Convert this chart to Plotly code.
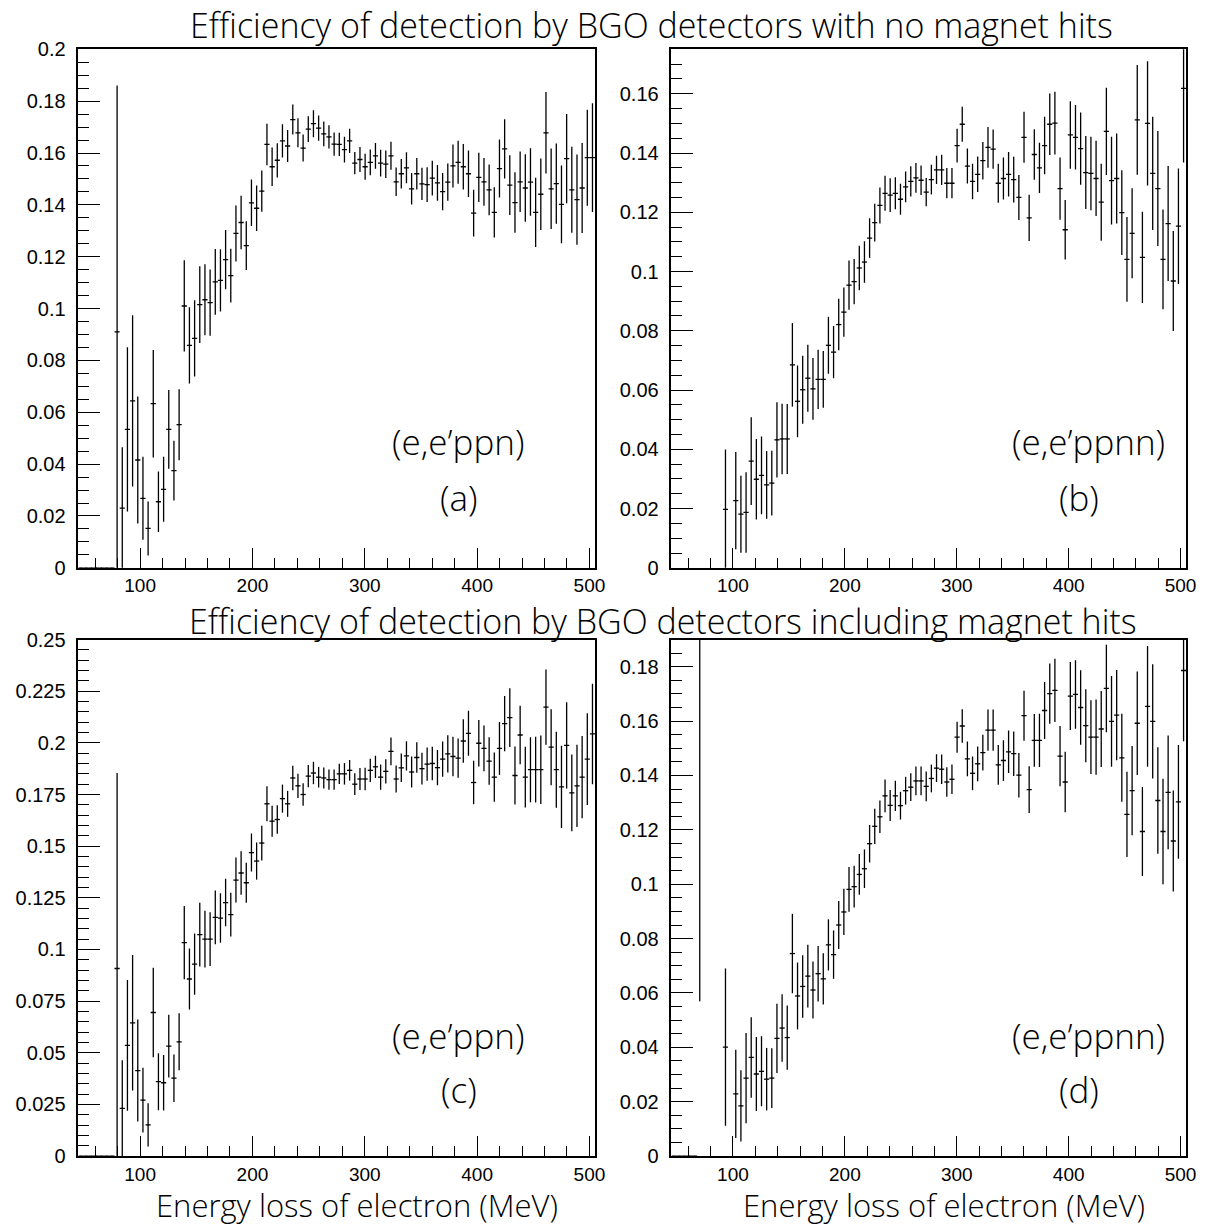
import plotly.graph_objects as go

# Energy-loss binning: 100 bins of 4.6 MeV between 45 and 505 MeV
X_MIN, X_MAX, N_BINS = 45.0, 505.0, 100
BIN_W = (X_MAX - X_MIN) / N_BINS
bin_centers = [X_MIN + (i + 0.5) * BIN_W for i in range(N_BINS)]

N = None
# (a) (e,e'ppn), no magnet hits
eff_a = [0, 0, 0, 0, 0, 0, 0,
         0.091, 0.023, 0.0534, 0.0644, 0.0416, 0.0268, 0.0152, 0.0633, 0.0255, 0.0303,
         0.0534, 0.0375, 0.0552, 0.101, 0.0858, 0.0885, 0.1015, 0.1034, 0.1023, 0.1103,
         0.1109, 0.1189, 0.1127, 0.129, 0.1332, 0.1243, 0.1408, 0.1387, 0.1453, 0.1633,
         0.1547, 0.1572, 0.1647, 0.1627, 0.1729, 0.1678, 0.1619, 0.1692, 0.1713, 0.1696,
         0.1674, 0.1662, 0.1634, 0.1633, 0.1613, 0.1647, 0.1561, 0.1575, 0.1547, 0.1564,
         0.1589, 0.1561, 0.1557, 0.1589, 0.1489, 0.152, 0.1543, 0.1462, 0.152, 0.1481,
         0.1478, 0.1503, 0.1485, 0.1451, 0.1488, 0.155, 0.1564, 0.1547, 0.152, 0.1368,
         0.1506, 0.1489, 0.1458, 0.1371, 0.154, 0.1616, 0.1476, 0.1409, 0.1489, 0.1465,
         0.1488, 0.1371, 0.1441, 0.1678, 0.1462, 0.1482, 0.1402, 0.1578, 0.1458, 0.142,
         0.1465, 0.1582, 0.1582]
err_a = [0, 0, 0, 0, 0, 0, 0,
         0.095, 0.0235, 0.0317, 0.033, 0.0245, 0.016, 0.0104, 0.0207, 0.0117, 0.0125,
         0.0152, 0.0115, 0.0137, 0.0176, 0.0147, 0.0147, 0.0148, 0.0137, 0.0128, 0.0127,
         0.012, 0.0114, 0.0104, 0.0108, 0.0103, 0.0094, 0.009, 0.0088, 0.008, 0.008,
         0.0074, 0.0066, 0.0064, 0.0062, 0.0058, 0.0056, 0.0052, 0.005, 0.0052, 0.0049,
         0.0048, 0.0045, 0.0045, 0.0045, 0.005, 0.0047, 0.0043, 0.0048, 0.005, 0.005,
         0.005, 0.0052, 0.0053, 0.0054, 0.0055, 0.0057, 0.006, 0.0061, 0.0061, 0.0062,
         0.0067, 0.0067, 0.0069, 0.0072, 0.0072, 0.0083, 0.0083, 0.0088, 0.009, 0.009,
         0.0095, 0.0092, 0.0098, 0.0097, 0.0112, 0.0114, 0.0115, 0.0117, 0.0117, 0.013,
         0.013, 0.0134, 0.0138, 0.0157, 0.0155, 0.0155, 0.015, 0.0172, 0.0166, 0.0174,
         0.0174, 0.0185, 0.021]

# (b) (e,e'ppnn), no magnet hits
eff_b = [N, N, N, N, N, N, N, N, N, N,
         0.0197, N, 0.0227, 0.0181, 0.0187, 0.036, 0.0299, 0.0312, 0.028, 0.0286,
         0.0432, 0.0435, 0.0435, 0.0685, 0.0562, 0.0601, 0.064, 0.0604, 0.0636, 0.0636,
         0.0751, 0.0728, 0.0821, 0.0863, 0.0954, 0.0966, 0.1012, 0.1032, 0.1113, 0.1165,
         0.1223, 0.1264, 0.1258, 0.1264, 0.1244, 0.1286, 0.1304, 0.1316, 0.1308, 0.1268,
         0.131, 0.1343, 0.1343, 0.1298, 0.1298, 0.1425, 0.1497, 0.1356, 0.1304, 0.1328,
         0.1374, 0.1419, 0.1413, 0.1298, 0.1314, 0.1328, 0.131, 0.125, 0.1453, 0.1181,
         0.1395, 0.135, 0.1425, 0.1497, 0.1501, 0.128, 0.1141, 0.1461, 0.1453, 0.1415,
         0.1334, 0.1331, 0.1314, 0.1234, 0.1473, 0.1307, 0.1314, 0.1199, 0.1041, 0.1129,
         0.1512, 0.1048, 0.15, 0.1331, 0.128, 0.1041, 0.1162, 0.0968, 0.1153, 0.1618]
err_b = [N, N, N, N, N, N, N, N, N, N,
         0.0202, N, 0.0164, 0.013, 0.0136, 0.0148, 0.0136, 0.0131, 0.0114, 0.0109,
         0.0127, 0.0119, 0.0118, 0.0141, 0.0121, 0.0115, 0.0113, 0.0104, 0.01, 0.0096,
         0.0096, 0.0088, 0.0087, 0.0083, 0.0083, 0.0076, 0.0075, 0.007, 0.0067, 0.0064,
         0.0061, 0.0059, 0.0057, 0.0054, 0.0052, 0.0052, 0.0051, 0.005, 0.005, 0.0048,
         0.005, 0.0048, 0.0051, 0.0051, 0.0051, 0.0057, 0.0059, 0.0059, 0.006, 0.006,
         0.0063, 0.0069, 0.0066, 0.0066, 0.0071, 0.0075, 0.0077, 0.0076, 0.0086, 0.0078,
         0.0085, 0.0085, 0.0097, 0.0104, 0.0106, 0.0105, 0.01, 0.0114, 0.0109, 0.0122,
         0.0123, 0.0124, 0.0127, 0.013, 0.0147, 0.0148, 0.0152, 0.0143, 0.0143, 0.0152,
         0.0185, 0.0154, 0.021, 0.0191, 0.0194, 0.0168, 0.0194, 0.0169, 0.0195, 0.025]

# (c) (e,e'ppn), including magnet hits
eff_c = [0, 0, 0, 0, 0, 0, 0,
         0.0908, 0.0231, 0.0536, 0.0645, 0.0414, 0.0271, 0.0151, 0.0695, 0.036, 0.0355,
         0.0532, 0.0377, 0.0553, 0.1033, 0.0857, 0.0929, 0.1072, 0.105, 0.105, 0.1155,
         0.1152, 0.1227, 0.1169, 0.1336, 0.137, 0.1323, 0.1469, 0.1428, 0.1515, 0.1705,
         0.1621, 0.1629, 0.173, 0.1705, 0.183, 0.1792, 0.175, 0.1839, 0.1854, 0.1834,
         0.183, 0.1822, 0.1822, 0.185, 0.185, 0.1867, 0.18, 0.1825, 0.1825, 0.1867,
         0.1884, 0.1834, 0.1862, 0.1959, 0.1825, 0.1879, 0.1937, 0.1859, 0.1929, 0.1875,
         0.1897, 0.19, 0.188, 0.1921, 0.1947, 0.1934, 0.1926, 0.2009, 0.2046, 0.1808,
         0.1998, 0.1973, 0.1912, 0.1834, 0.1973, 0.2093, 0.2122, 0.1842, 0.2038, 0.1834,
         0.187, 0.187, 0.187, 0.2173, 0.1979, 0.187, 0.1787, 0.1988, 0.1758, 0.1792,
         0.1834, 0.1921, 0.2043]
err_c = [0, 0, 0, 0, 0, 0, 0,
         0.0946, 0.0233, 0.0316, 0.0328, 0.0247, 0.0157, 0.0105, 0.0216, 0.0138, 0.0134,
         0.0152, 0.0115, 0.0138, 0.0177, 0.0148, 0.0148, 0.0154, 0.0137, 0.013, 0.013,
         0.012, 0.0115, 0.0106, 0.0109, 0.0105, 0.0097, 0.0092, 0.009, 0.0084, 0.0085,
         0.0075, 0.0069, 0.0068, 0.0063, 0.0059, 0.0059, 0.0055, 0.0054, 0.0054, 0.005,
         0.0051, 0.0049, 0.0049, 0.0049, 0.0052, 0.005, 0.0053, 0.0053, 0.0055, 0.0056,
         0.0054, 0.0061, 0.0059, 0.0067, 0.0065, 0.0069, 0.0071, 0.0075, 0.0074, 0.0077,
         0.008, 0.0081, 0.0085, 0.0085, 0.009, 0.0096, 0.0095, 0.0105, 0.0109, 0.0105,
         0.0113, 0.0111, 0.0115, 0.0119, 0.0128, 0.0134, 0.0142, 0.014, 0.0142, 0.0147,
         0.0157, 0.0159, 0.0166, 0.0182, 0.0184, 0.0184, 0.0199, 0.0209, 0.0186, 0.0199,
         0.0199, 0.0222, 0.0243]

# (d) (e,e'ppnn), including magnet hits
eff_d = [0, 0, 0, 0, 0, 0.2, N, N, N, N,
         0.0401, N, 0.0229, 0.0185, 0.0287, 0.0363, 0.0302, 0.0312, 0.0283, 0.0287,
         0.0433, 0.0471, 0.0436, 0.0745, 0.0589, 0.0624, 0.0662, 0.0611, 0.0671, 0.0652,
         0.0777, 0.0741, 0.085, 0.0898, 0.0981, 0.0991, 0.1036, 0.1057, 0.1149, 0.1213,
         0.1248, 0.1325, 0.129, 0.1325, 0.1289, 0.1344, 0.1357, 0.138, 0.138, 0.136,
         0.1389, 0.1427, 0.1423, 0.1376, 0.1386, 0.1541, 0.1582, 0.1461, 0.1408, 0.1443,
         0.1484, 0.1567, 0.1567, 0.1439, 0.1455, 0.1487, 0.148, 0.1401, 0.162, 0.1348,
         0.1529, 0.1529, 0.1639, 0.1701, 0.1713, 0.1471, 0.1376, 0.1692, 0.1698, 0.165,
         0.1583, 0.1541, 0.1541, 0.1571, 0.172, 0.1599, 0.1622, 0.1465, 0.1257, 0.1344,
         0.1592, 0.1194, 0.1654, 0.1599, 0.1308, 0.1194, 0.1338, 0.1159, 0.1303, 0.1786]
err_d = [0, 0, 0, 0, 0, 0.143, N, N, N, N,
         0.0289, N, 0.0162, 0.0131, 0.0166, 0.0148, 0.0136, 0.0129, 0.0115, 0.011,
         0.0127, 0.0124, 0.0118, 0.0146, 0.0123, 0.0115, 0.0115, 0.0105, 0.0102, 0.0094,
         0.0094, 0.0089, 0.0088, 0.0085, 0.0082, 0.0077, 0.0075, 0.0071, 0.0069, 0.0065,
         0.006, 0.006, 0.0057, 0.0056, 0.0051, 0.0051, 0.0051, 0.0053, 0.0053, 0.0055,
         0.0051, 0.0051, 0.0054, 0.0054, 0.0054, 0.0057, 0.0062, 0.0064, 0.0062, 0.0064,
         0.0066, 0.0076, 0.0076, 0.0073, 0.0075, 0.0078, 0.0082, 0.0082, 0.0092, 0.0086,
         0.0097, 0.0098, 0.0105, 0.0111, 0.0116, 0.0111, 0.0111, 0.0125, 0.0126, 0.0137,
         0.0134, 0.0136, 0.0138, 0.014, 0.0161, 0.0167, 0.0166, 0.0162, 0.0157, 0.0164,
         0.019, 0.0164, 0.0222, 0.021, 0.0196, 0.0194, 0.0209, 0.0186, 0.0209, 0.026]

titles = ["Efficiency of detection by BGO detectors with no magnet hits",
          "Efficiency of detection by BGO detectors including magnet hits"]
reactions = ["(e,e\u2019ppn)", "(e,e\u2019ppnn)", "(e,e\u2019ppn)", "(e,e\u2019ppnn)"]
panel_tags = ["(a)", "(b)", "(c)", "(d)"]
x_title = "Energy loss of electron (MeV)"

# per panel: data, y range, major tick step
panels = [
    (eff_a, err_a, 0.2, 0.02),
    (eff_b, err_b, 0.175, 0.02),
    (eff_c, err_c, 0.25, 0.025),
    (eff_d, err_d, 0.19, 0.02),
]

W, H = 1215, 1228
# frame boxes in pixels: (left, right, top, bottom)
frames = [(79, 600, 39, 567), (677, 1196, 39, 567),
          (79, 600, 640, 1166), (677, 1196, 640, 1166)]

X_TICK_FONT = dict(family="Liberation Sans, Arial, sans-serif", size=19, color="black")
Y_TICK_FONT = dict(family="Liberation Sans, Arial, sans-serif", size=20, color="black")
TEXT_FONT = "Open Sans, DejaVu Sans, sans-serif"

fig = go.Figure()
layout = dict(width=W, height=H, margin=dict(l=0, r=0, t=0, b=0),
              paper_bgcolor="white", plot_bgcolor="white", showlegend=False)

for k, ((vals, errs, ymax, ystep), (l, r, t, b)) in enumerate(zip(panels, frames)):
    ax = "" if k == 0 else str(k + 1)
    xs = [c for c, v in zip(bin_centers, vals) if v is not None]
    ys = [v for v in vals if v is not None]
    es = [e for v, e in zip(vals, errs) if v is not None]
    fig.add_trace(go.Scatter(
        x=xs, y=ys, mode="markers", xaxis="x" + ax, yaxis="y" + ax,
        marker=dict(size=1, color="black"),
        error_y=dict(type="data", array=es, width=0, thickness=1.3, color="black"),
        error_x=dict(type="constant", value=BIN_W / 2, width=0, thickness=1.3, color="black"),
        hoverinfo="skip"))
    layout["xaxis" + ax] = dict(
        domain=[l / W, r / W], range=[X_MIN, X_MAX], anchor="y" + ax,
        tick0=0, dtick=100, ticks="inside", ticklen=20, tickwidth=1.2, tickcolor="black",
        minor=dict(dtick=20, ticks="inside", ticklen=10, tickwidth=1.2, tickcolor="black"),
        showline=True, linecolor="black", linewidth=1.5, mirror=True,
        showgrid=False, zeroline=False, tickfont=X_TICK_FONT, ticklabelstandoff=0)
    layout["yaxis" + ax] = dict(
        domain=[1 - b / H, 1 - t / H], range=[0, ymax], anchor="x" + ax,
        tick0=0, dtick=ystep, ticks="inside", ticklen=22, tickwidth=1.2, tickcolor="black",
        minor=dict(dtick=0.005, ticks="inside", ticklen=11, tickwidth=1.2, tickcolor="black"),
        showline=True, linecolor="black", linewidth=1.5, mirror=True,
        showgrid=False, zeroline=False, tickfont=Y_TICK_FONT, ticklabelstandoff=7)


def label(text, cx, cy, size):
    return dict(text=text, x=cx / W, y=1 - cy / H, xref="paper", yref="paper",
                xanchor="center", yanchor="middle", showarrow=False,
                font=dict(family=TEXT_FONT, size=size, color="black", weight=300))


annotations = []
for text, (cx, cy) in zip(titles, [(657, 14), (668, 621)]):
    annotations.append(label(text, cx, cy, 34))
for cx in (360, 952):
    annotations.append(label(x_title, cx, 1216, 31))
label_pos = [((462, 438), (463, 495)), ((1098, 438), (1088, 495)),
             ((462, 1043), (463, 1098)), ((1098, 1043), (1088, 1098))]
for react, tag, ((rx, ry), (tx, ty)) in zip(reactions, panel_tags, label_pos):
    annotations.append(label(react, rx, ry, 35))
    annotations.append(label(tag, tx, ty, 35))
layout["annotations"] = annotations

fig.update_layout(**layout)
fig.write_html("out.html")
